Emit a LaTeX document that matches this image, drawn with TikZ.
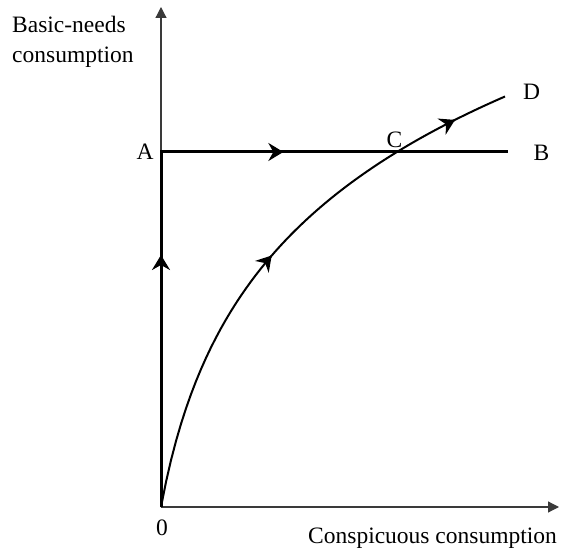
\documentclass[tikz,border=0pt]{standalone}
\usepackage{fontspec}
\setmainfont{Liberation Serif}
\usepackage{tikz}
\usetikzlibrary{arrows.meta,positioning,decorations.markings}
\definecolor{AxisGray}{HTML}{3A3A3A}

\begin{document}
\begin{tikzpicture}[x=1pt,y=1pt,
    axis/.style={draw=AxisGray,line width=1.2pt,-{Triangle[length=11pt,width=11pt]}},
    pathline/.style={line width=3pt,line join=miter},
    curveline/.style={line width=2pt},
    midtip/.tip={Stealth[length=15pt,width=18pt,inset=5pt]},
    lbl/.style={font=\fontsize{23.5}{30}\selectfont,inner sep=0pt}]
  \useasboundingbox (-161,-44) rectangle (400,507);
  % axes
  \coordinate (O) at (0,0);
  \coordinate (xend) at (398,0);
  \coordinate (yend) at (0,500);
  \draw[axis] (O) -- (xend);
  \draw[axis] (O) -- (yend);
  % path 0 -> A -> B
  \coordinate (A) at (0,355);
  \coordinate (B) at (347,355);
  \draw[pathline,postaction={decorate},
        decoration={markings,
          mark=at position 0.359 with {\arrow{midtip}},
          mark=at position 0.68 with {\arrow{midtip}}}]
    (O) -- (A) -- (B);
  % path 0 -> C -> D
  \coordinate (D) at (344,410.5);
  \draw[curveline] plot[domain=0:344,samples=70] (\x,{162.7*ln(1+\x/30)});
  \coordinate (tip1) at (110.7,251.5);
  \coordinate (tip2) at (294,387.1);
  \draw[curveline,-{midtip}] (tip1) ++(229.1:1) -- (tip1);
  \draw[curveline,-{midtip}] (tip2) ++(206.7:1) -- (tip2);
  % labels
  \node[lbl] (labA) at (-16,355.5) {A};
  \node[lbl] (labB) at (380.5,354.5) {B};
  \node[lbl] (labC) at (233.5,367.5) {C};
  \node[lbl] (labD) at (370.5,415.5) {D};
  \node[lbl] (lab0) at (1,-20.5) {0};
  \node[lbl,anchor=base west] (xlabel) at (147,-36) {Conspicuous consumption};
  \node[lbl,anchor=north west,align=left] (ylabel) at (-149,491.4) {Basic-needs\\consumption};
\end{tikzpicture}
\end{document}
